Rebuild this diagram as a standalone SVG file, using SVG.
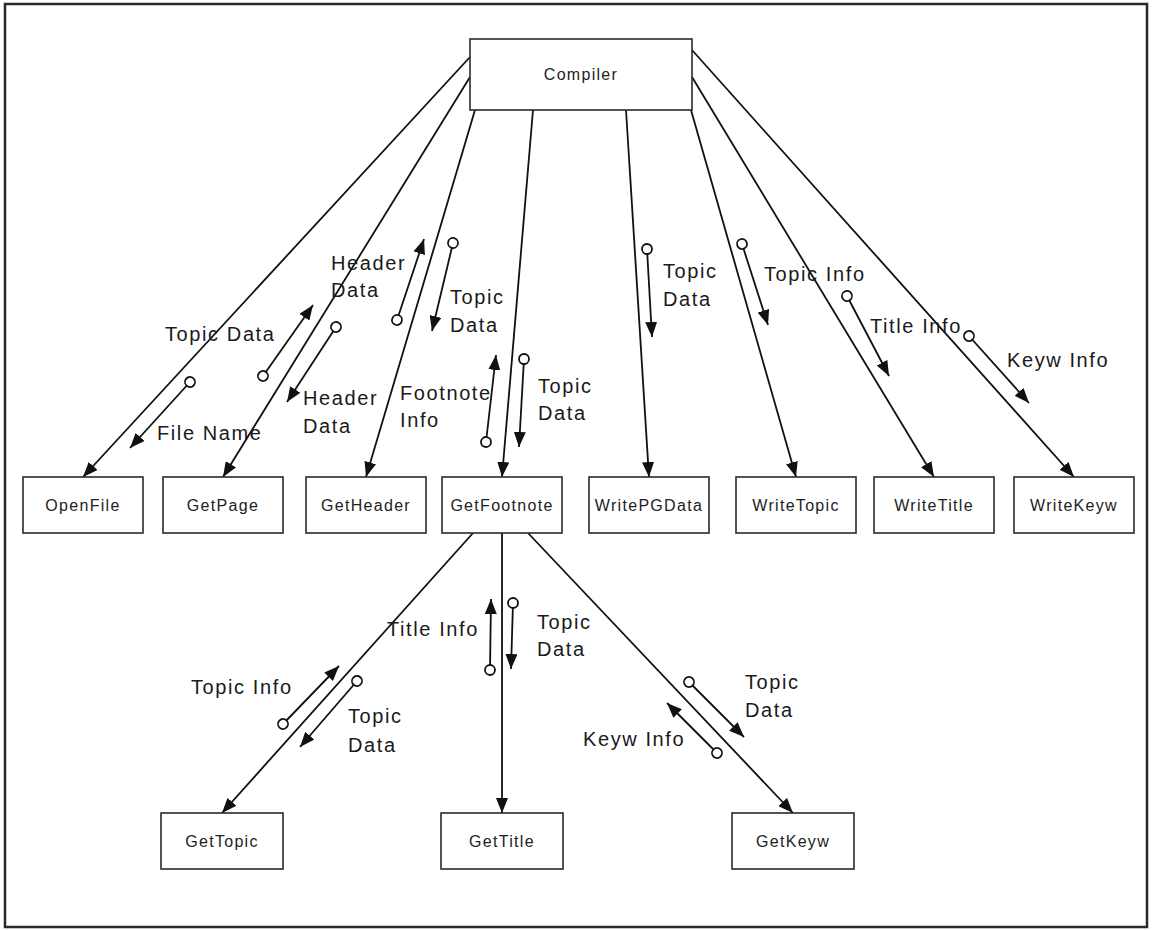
<svg xmlns="http://www.w3.org/2000/svg" width="1153" height="930" viewBox="0 0 1153 930">
  <style>
    .frame { fill: #ffffff; stroke: #2a2a2a; stroke-width: 2.5; }
    .box { fill: #ffffff; stroke: #2a2a2a; stroke-width: 1.6; }
    .name { font-family: "Liberation Sans", Arial, sans-serif; font-size: 16px; letter-spacing: 1.3px; fill: #222; text-anchor: middle; }
    .link { stroke: #111; stroke-width: 1.8; fill: none; marker-end: url(#head); }
    .flow { stroke: #111; stroke-width: 1.8; fill: none; marker-start: url(#tail); marker-end: url(#head); }
    .lbl { font-family: "Liberation Sans", Arial, sans-serif; font-size: 20px; letter-spacing: 1.6px; fill: #1a1a1a; }
  </style>
  <defs>
    <marker id="head" markerUnits="userSpaceOnUse" markerWidth="16" markerHeight="12" refX="15" refY="6" orient="auto">
      <path d="M0,0 L15,6 L0,12 z" fill="#111"/>
    </marker>
    <marker id="tail" markerUnits="userSpaceOnUse" markerWidth="14" markerHeight="14" refX="7" refY="7" orient="auto">
      <circle cx="7" cy="7" r="5" fill="#ffffff" stroke="#111" stroke-width="1.8"/>
    </marker>
  </defs>

  <rect class="frame" x="5" y="4" width="1142" height="923"/>

  <!-- call structure -->
  <g id="connectors">
    <line class="link" x1="470" y1="57" x2="83" y2="477"/>
    <line class="link" x1="470" y1="77" x2="223" y2="477"/>
    <line class="link" x1="475" y1="110" x2="366" y2="477"/>
    <line class="link" x1="533" y1="110" x2="502" y2="477"/>
    <line class="link" x1="626" y1="110" x2="649" y2="477"/>
    <line class="link" x1="691" y1="110" x2="796" y2="477"/>
    <line class="link" x1="692" y1="77" x2="934" y2="477"/>
    <line class="link" x1="692" y1="50" x2="1074" y2="477"/>
    <line class="link" x1="473" y1="533" x2="222" y2="813"/>
    <line class="link" x1="502" y1="533" x2="502" y2="813"/>
    <line class="link" x1="528" y1="533" x2="793" y2="813"/>
  </g>

  <!-- data couples -->
  <g id="couples">
    <line class="flow" x1="190" y1="382" x2="130" y2="448"/>
    <line class="flow" x1="263" y1="376" x2="313" y2="305"/>
    <line class="flow" x1="336" y1="327" x2="287" y2="402"/>
    <line class="flow" x1="397" y1="320" x2="424" y2="239"/>
    <line class="flow" x1="453" y1="243" x2="432" y2="331"/>
    <line class="flow" x1="486" y1="442" x2="496" y2="355"/>
    <line class="flow" x1="524" y1="359" x2="519" y2="447"/>
    <line class="flow" x1="647" y1="249" x2="652" y2="337"/>
    <line class="flow" x1="742" y1="244" x2="768" y2="325"/>
    <line class="flow" x1="847" y1="296" x2="889" y2="376"/>
    <line class="flow" x1="969" y1="336" x2="1029" y2="403"/>
    <line class="flow" x1="283" y1="724" x2="339" y2="666"/>
    <line class="flow" x1="357" y1="681" x2="300" y2="747"/>
    <line class="flow" x1="490" y1="670" x2="491" y2="599"/>
    <line class="flow" x1="513" y1="603" x2="511" y2="669"/>
    <line class="flow" x1="689" y1="682" x2="744" y2="737"/>
    <line class="flow" x1="717" y1="753" x2="667" y2="703"/>
  </g>

  <g id="labels">
    <text class="lbl" x="165" y="341">Topic Data</text>
    <text class="lbl" x="157" y="440">File Name</text>
    <text class="lbl" x="331" y="270">Header</text>
    <text class="lbl" x="331" y="297">Data</text>
    <text class="lbl" x="303" y="405">Header</text>
    <text class="lbl" x="303" y="433">Data</text>
    <text class="lbl" x="450" y="304">Topic</text>
    <text class="lbl" x="450" y="332">Data</text>
    <text class="lbl" x="400" y="400">Footnote</text>
    <text class="lbl" x="400" y="427">Info</text>
    <text class="lbl" x="538" y="393">Topic</text>
    <text class="lbl" x="538" y="420">Data</text>
    <text class="lbl" x="663" y="278">Topic</text>
    <text class="lbl" x="663" y="306">Data</text>
    <text class="lbl" x="764" y="281">Topic Info</text>
    <text class="lbl" x="870" y="333">Title Info</text>
    <text class="lbl" x="1007" y="367">Keyw Info</text>
    <text class="lbl" x="387" y="636">Title Info</text>
    <text class="lbl" x="537" y="629">Topic</text>
    <text class="lbl" x="537" y="656">Data</text>
    <text class="lbl" x="191" y="694">Topic Info</text>
    <text class="lbl" x="348" y="723">Topic</text>
    <text class="lbl" x="348" y="752">Data</text>
    <text class="lbl" x="745" y="689">Topic</text>
    <text class="lbl" x="745" y="717">Data</text>
    <text class="lbl" x="583" y="746">Keyw Info</text>
  </g>

  <g id="compiler">
    <rect class="box" x="470" y="39" width="222" height="71"/>
    <text class="name" x="581" y="80">Compiler</text>
  </g>
  <g id="openfile">
    <rect class="box" x="23" y="477" width="120" height="56"/>
    <text class="name" x="83" y="511">OpenFile</text>
  </g>
  <g id="getpage">
    <rect class="box" x="163" y="477" width="120" height="56"/>
    <text class="name" x="223" y="511">GetPage</text>
  </g>
  <g id="getheader">
    <rect class="box" x="306" y="477" width="120" height="56"/>
    <text class="name" x="366" y="511">GetHeader</text>
  </g>
  <g id="getfootnote">
    <rect class="box" x="442" y="477" width="120" height="56"/>
    <text class="name" x="502" y="511">GetFootnote</text>
  </g>
  <g id="writepgdata">
    <rect class="box" x="589" y="477" width="120" height="56"/>
    <text class="name" x="649" y="511">WritePGData</text>
  </g>
  <g id="writetopic">
    <rect class="box" x="736" y="477" width="120" height="56"/>
    <text class="name" x="796" y="511">WriteTopic</text>
  </g>
  <g id="writetitle">
    <rect class="box" x="874" y="477" width="120" height="56"/>
    <text class="name" x="934" y="511">WriteTitle</text>
  </g>
  <g id="writekeyw">
    <rect class="box" x="1014" y="477" width="120" height="56"/>
    <text class="name" x="1074" y="511">WriteKeyw</text>
  </g>
  <g id="gettopic">
    <rect class="box" x="161" y="813" width="122" height="56"/>
    <text class="name" x="222" y="847">GetTopic</text>
  </g>
  <g id="gettitle">
    <rect class="box" x="441" y="813" width="122" height="56"/>
    <text class="name" x="502" y="847">GetTitle</text>
  </g>
  <g id="getkeyw">
    <rect class="box" x="732" y="813" width="122" height="56"/>
    <text class="name" x="793" y="847">GetKeyw</text>
  </g>
</svg>
